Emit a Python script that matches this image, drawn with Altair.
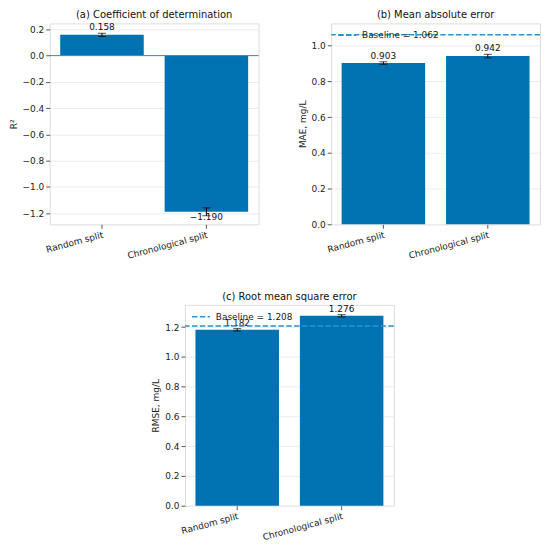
import altair as alt
import pandas as pd

categories = ["Random split", "Chronological split"]

r2_values = [0.158, -1.190]
r2_errors = [0.012, 0.030]

mae_values = [0.903, 0.942]
mae_errors = [0.007, 0.010]
mae_baseline = 1.062

rmse_values = [1.182, 1.276]
rmse_errors = [0.008, 0.008]
rmse_baseline = 1.208

r2_ticks = [0.2, 0.0, -0.2, -0.4, -0.6, -0.8, -1.0, -1.2]
mae_ticks = [0.0, 0.2, 0.4, 0.6, 0.8, 1.0]
rmse_ticks = [0.0, 0.2, 0.4, 0.6, 0.8, 1.0, 1.2]

BAR = "#0072B2"
LINE = "#2a92cc"
FONT = "DejaVu Sans"
W, H = 210, 202
FS = 9


def panel(values, errors, title, ytitle, domain, ticks, baseline=None, zero=False):
    df = pd.DataFrame({"split": categories, "value": values, "err": errors})
    df["lo"] = df["value"] - df["err"]
    df["hi"] = df["value"] + df["err"]
    df["label"] = [f"{v:.3f}".replace("-", "\u2212") for v in values]
    df["label_y"] = [h if v >= 0 else l for v, h, l in zip(df["value"], df["hi"], df["lo"])]

    scale = alt.Scale(domain=domain, nice=False, zero=False)
    axis = alt.Axis(
        values=ticks,
        labelExpr="replace(format(datum.value, '.1f'), '-', '\u2212')",
        grid=True, gridColor="#ececec", domain=False, tickSize=4,
        labelPadding=2, labelFontSize=FS, titleFontSize=FS,
        titleFontWeight="normal", titlePadding=4, labelColor="#222",
        tickColor="#555", titleColor="#222",
    )

    def Y(field):
        return alt.Y(field, scale=scale, axis=axis, title=ytitle)

    x = alt.X(
        "split:N", sort=categories, title=None,
        scale=alt.Scale(paddingInner=0.2, paddingOuter=0.1),
        axis=alt.Axis(labelAngle=345, labelAlign="right", labelBaseline="top",
                      domain=False, tickSize=4, labelPadding=2, labelFontSize=FS,
                      labelColor="#222", tickColor="#555", grid=False),
    )

    base = alt.Chart(df)
    layers = [base.mark_bar(color=BAR).encode(x=x, y=Y("value:Q"))]
    if zero:
        zdf = pd.DataFrame({"zero": [0.0]})
        layers.append(alt.Chart(zdf).mark_rule(color=LINE, strokeWidth=1).encode(y=Y("zero:Q")))
    layers += [
        base.mark_rule(color="black", strokeWidth=1).encode(x=x, y=Y("lo:Q"), y2="hi:Q"),
        base.mark_tick(color="black", size=8, thickness=1).encode(x=x, y=Y("lo:Q")),
        base.mark_tick(color="black", size=8, thickness=1).encode(x=x, y=Y("hi:Q")),
        base.transform_filter("datum.value >= 0").mark_text(
            baseline="bottom", dy=-1, fontSize=FS, font=FONT, color="#111"
        ).encode(x=x, y=Y("label_y:Q"), text="label:N"),
        base.transform_filter("datum.value < 0").mark_text(
            baseline="top", dy=-3, fontSize=FS, font=FONT, color="#111"
        ).encode(x=x, y=Y("label_y:Q"), text="label:N"),
    ]
    if baseline is not None:
        bdf = pd.DataFrame({"baseline": [baseline], "label": [f"Baseline = {baseline:.3f}"]})
        bchart = alt.Chart(bdf)
        layers += [
            bchart.mark_rule(color=LINE, strokeWidth=1.5, strokeDash=[5.5, 2.4]).encode(y=Y("baseline:Q")),
            bchart.mark_rule(color=LINE, strokeWidth=1.5, strokeDash=[5.5, 2.4]).encode(
                x=alt.value(7), x2=alt.value(25), y=alt.value(12)),
            bchart.mark_text(align="left", baseline="middle", fontSize=FS, font=FONT, color="#222").encode(
                x=alt.value(31), y=alt.value(12), text="label:N"),
        ]
    return alt.layer(*layers).properties(
        width=W, height=H,
        title=alt.TitleParams(title, fontSize=10, fontWeight="normal", font=FONT, offset=3, color="#111"),
    )


a = panel(r2_values, r2_errors, "(a) Coefficient of determination", "R\u00b2",
          [-1.285, 0.245], r2_ticks, zero=True)
b = panel(mae_values, mae_errors, "(b) Mean absolute error", "MAE, mg/L",
          [0, 1.125], mae_ticks, baseline=mae_baseline)
c = panel(rmse_values, rmse_errors, "(c) Root mean square error", "RMSE, mg/L",
          [0, 1.35], rmse_ticks, baseline=rmse_baseline)

spacer = alt.Chart(pd.DataFrame({"s": [0]})).mark_text(text="").properties(
    width=92, height=1, view=alt.ViewBackground(strokeOpacity=0)
)

chart = alt.vconcat(
    alt.hconcat(a, b, spacing=38),
    alt.hconcat(spacer, c, spacing=10),
    spacing=30,
).properties(padding=0).configure_view(
    stroke="#555", strokeWidth=1
).configure(font=FONT)

chart.save("out.html", embed_options={"renderer": "svg", "actions": False})
